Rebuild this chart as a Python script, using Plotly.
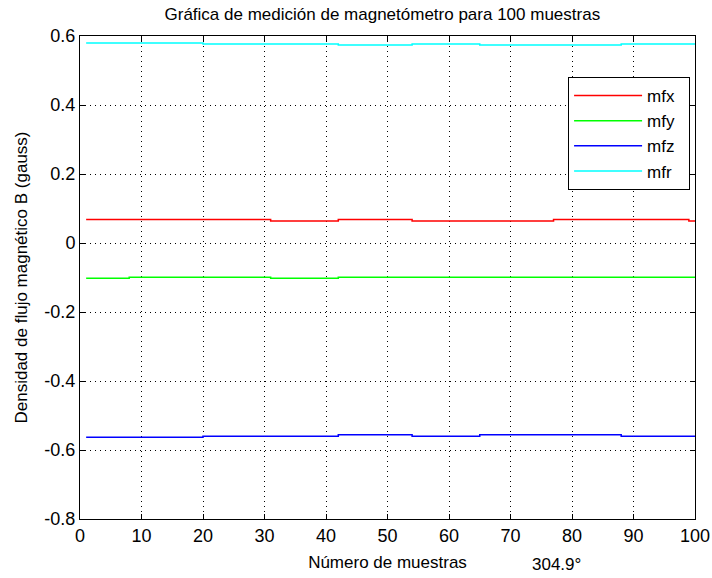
import plotly.graph_objects as go

# Step-change sample indices and levels
mfx_x = [1, 31, 42, 54, 77, 99, 100]
mfx_y = [0.068, 0.064, 0.068, 0.064, 0.068, 0.064, 0.064]

mfy_x = [1, 8, 31, 42, 100]
mfy_y = [-0.102, -0.099, -0.102, -0.099, -0.099]

mfz_x = [1, 20, 42, 54, 65, 88, 100]
mfz_y = [-0.563, -0.560, -0.556, -0.560, -0.556, -0.560, -0.560]

mfr_x = [1, 20, 42, 54, 65, 88, 100]
mfr_y = [0.580, 0.577, 0.574, 0.577, 0.574, 0.577, 0.577]

series_names = ["mfx", "mfy", "mfz", "mfr"]
x_ticks = [0, 10, 20, 30, 40, 50, 60, 70, 80, 90, 100]
y_ticks = [-0.8, -0.6, -0.4, -0.2, 0, 0.2, 0.4, 0.6]
y_tick_labels = ["-0.8", "-0.6", "-0.4", "-0.2", "0", "0.2", "0.4", "0.6"]

FONT = "Liberation Sans, Arial, sans-serif"
FS = 17
TFS = 18

fig = go.Figure()
series = [
    (series_names[0], mfx_x, mfx_y, "#ff0000"),
    (series_names[1], mfy_x, mfy_y, "#00ff00"),
    (series_names[2], mfz_x, mfz_y, "#0000ff"),
    (series_names[3], mfr_x, mfr_y, "#00ffff"),
]
for name, xs, ys, col in series:
    fig.add_trace(go.Scatter(
        x=xs, y=ys, name=name + "\u00a0\u00a0", mode="lines",
        line=dict(color=col, width=1.5, shape="hv"),
        legendgroup=name,
    ))

axis_common = dict(
    showline=True, linecolor="black", linewidth=1, mirror="ticks",
    ticks="inside", ticklen=5, tickcolor="black",
    showgrid=True, gridcolor="black", gridwidth=1, griddash="1px,4px",
    zeroline=False, automargin=False,
    tickfont=dict(family=FONT, size=TFS, color="black"),
)

fig.update_xaxes(range=[0, 100], tickvals=x_ticks,
                 title=dict(text="Número de muestras", standoff=11,
                            font=dict(family=FONT, size=FS, color="black")),
                 **axis_common)
fig.update_yaxes(range=[-0.8, 0.6], tickvals=y_ticks, ticktext=y_tick_labels,
                 title=dict(text="Densidad de flujo magnético B (gauss)", standoff=12,
                            font=dict(family=FONT, size=FS, color="black")),
                 **axis_common)

fig.add_annotation(text="304.9°", xref="paper", yref="paper", x=0.775, y=0,
                   xanchor="center", yanchor="middle", yshift=-45, showarrow=False,
                   font=dict(family=FONT, size=FS, color="black"))

fig.update_layout(
    width=712, height=578,
    margin=dict(l=80, r=17, t=36, b=59),
    paper_bgcolor="white", plot_bgcolor="white",
    title=dict(text="Gráfica de medición de magnetómetro para 100 muestras",
               x=0.537, xanchor="center", y=1 - 14 / 578, yanchor="middle",
               font=dict(family=FONT, size=FS, color="black")),
    legend=dict(x=0.992, xanchor="right", y=0.915, yanchor="top",
                bordercolor="black", borderwidth=1, bgcolor="white",
                tracegroupgap=0, itemwidth=68,
                font=dict(family=FONT, size=FS, color="black")),
    showlegend=True,
)

fig.write_html("out.html", config={"displayModeBar": False},
               post_script="document.body.style.margin='0';document.body.style.overflow='hidden';")
